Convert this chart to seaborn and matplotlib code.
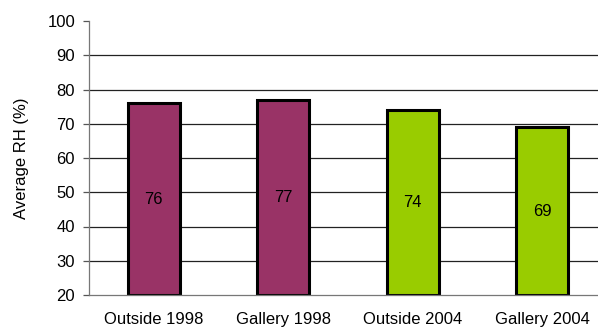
import matplotlib

matplotlib.use("Agg")

import matplotlib.pyplot as plt
import pandas as pd
import seaborn as sns

categories = ["Outside 1998", "Gallery 1998", "Outside 2004", "Gallery 2004"]
avg_rh = [76, 77, 74, 69]
bar_colors = ["#993366", "#993366", "#99CC00", "#99CC00"]
y_ticks = [20, 30, 40, 50, 60, 70, 80, 90, 100]

sns.set_theme(style="white")
plt.rcParams["font.family"] = ["Liberation Sans", "DejaVu Sans"]
plt.rcParams["text.color"] = "black"
plt.rcParams["xtick.labelcolor"] = "black"
plt.rcParams["ytick.labelcolor"] = "black"
plt.rcParams["axes.labelcolor"] = "black"

df = pd.DataFrame({"category": categories, "rh": avg_rh})
base = y_ticks[0]
fs = 12

fig = plt.figure(figsize=(5.98, 3.29), dpi=100)
# plot area runs past the right edge of the picture, as in the original
ax = fig.add_axes([89 / 598, 34 / 329, 518 / 598, 274 / 329])

for y in y_ticks[1:-1]:
    ax.axhline(y, color="#222222", linewidth=0.9, zorder=0)

sns.barplot(data=df, x="category", y="rh", hue="category", palette=bar_colors,
            saturation=1, legend=False, width=0.40, edgecolor="black",
            linewidth=2.2, ax=ax, zorder=2)

# bars start at the axis floor, so shift them down to the baseline
for patch, val in zip(ax.patches, avg_rh):
    patch.set_y(base)
    patch.set_height(val - base)
    ax.text(patch.get_x() + patch.get_width() / 2, (base + val) / 2, str(val),
            ha="center", va="center", fontsize=fs, color="black", zorder=3)

ax.set_ylim(base, 100)
ax.set_xlim(-0.5, 3.5)
ax.set_yticks(y_ticks)
ax.set_yticklabels([str(t) for t in y_ticks], fontsize=fs)
ax.set_xticks([i for i in range(len(categories))])
ax.set_xticklabels(categories, fontsize=fs)
ax.set_xticks([-0.5, 0.5, 1.5, 2.5], minor=True)
ax.tick_params(axis="x", which="major", length=0, pad=12)
ax.tick_params(axis="x", which="minor", length=4, width=0.9, color="#555555", direction="out")
ax.tick_params(axis="y", length=4.5, width=0.9, color="#555555", direction="out", pad=5.5, left=True)
ax.set_xlabel("")
ax.set_ylabel("Average RH (%)", fontsize=fs, labelpad=13)

for side in ["top", "right"]:
    ax.spines[side].set_visible(False)
for side in ["left", "bottom"]:
    ax.spines[side].set_color("#777777")
    ax.spines[side].set_linewidth(0.9)

fig.savefig("out.png", dpi=100)
